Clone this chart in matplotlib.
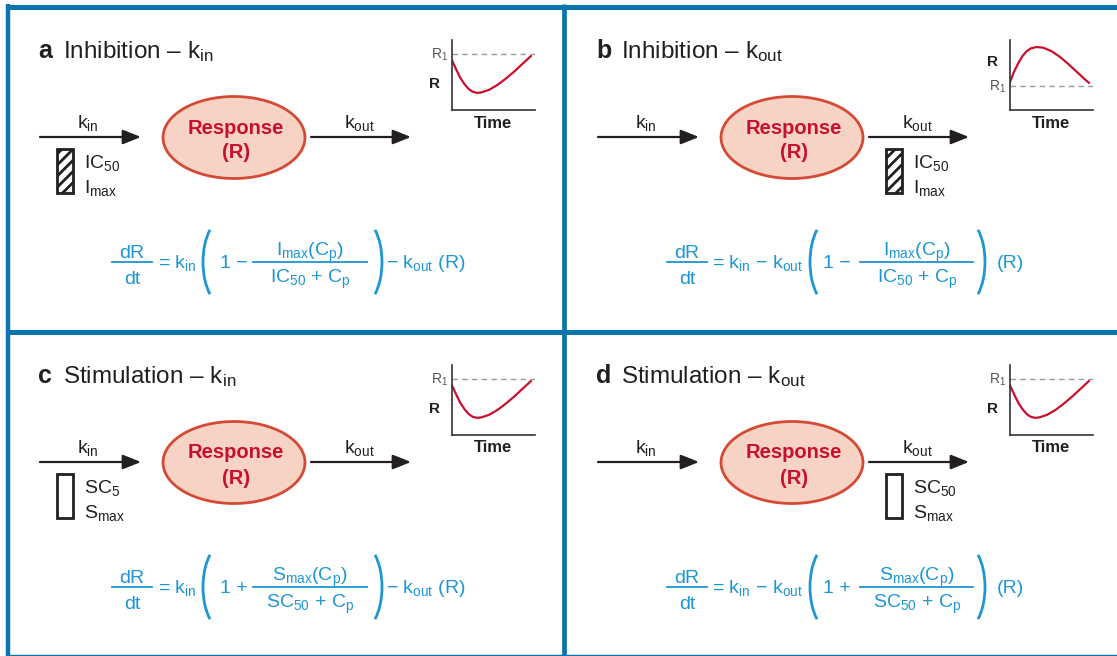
import matplotlib
matplotlib.use('Agg')
import matplotlib.pyplot as plt
from matplotlib.patches import Ellipse, Rectangle, Arc

plt.rcParams['font.family'] = 'Liberation Sans'
plt.rcParams['mathtext.fontset'] = 'custom'
plt.rcParams['mathtext.rm'] = 'Liberation Sans'
plt.rcParams['mathtext.it'] = 'Liberation Sans'
plt.rcParams['mathtext.bf'] = 'Liberation Sans:bold'
plt.rcParams['hatch.linewidth'] = 2.0

# panel contents
letters = ['a', 'b', 'c', 'd']
modes = ['Inhibition', 'Inhibition', 'Stimulation', 'Stimulation']
rates = ['in', 'out', 'in', 'out']
box_top = ['IC$_{50}$', 'IC$_{50}$', 'SC$_{5}$', 'SC$_{50}$']
box_bottom = ['I$_{max}$', 'I$_{max}$', 'S$_{max}$', 'S$_{max}$']
hatched = [True, True, False, False]
signs = ['\u2212', '\u2212', '+', '+']
numerators = ['I$_{max}$(C$_{p}$)', 'I$_{max}$(C$_{p}$)',
              'S$_{max}$(C$_{p}$)', 'S$_{max}$(C$_{p}$)']
denominators = ['IC$_{50}$ + C$_{p}$', 'IC$_{50}$ + C$_{p}$',
                'SC$_{50}$ + C$_{p}$', 'SC$_{50}$ + C$_{p}$']
curve_kind = ['down', 'up', 'down', 'down']

# response-time sketches (axis units 0..1)
time_down = [0, 0.05, 0.1, 0.15, 0.2, 0.25, 0.3, 0.35, 0.45, 0.55, 0.65, 0.75, 0.85, 0.95]
resp_down = [0.71, 0.58, 0.46, 0.37, 0.30, 0.26, 0.245, 0.25, 0.29, 0.36, 0.45, 0.55, 0.66, 0.77]
base_down = 0.8
time_up = [0, 0.05, 0.1, 0.15, 0.2, 0.25, 0.32, 0.4, 0.5, 0.6, 0.7, 0.8, 0.9, 0.95]
resp_up = [0.40, 0.55, 0.67, 0.77, 0.84, 0.88, 0.90, 0.89, 0.84, 0.76, 0.66, 0.55, 0.44, 0.39]
base_up = 0.343

W, H = 1117, 656
BLUE = '#0b74ad'
EQ = '#1d96d3'
RED = '#c8102e'
INK = '#231f20'

fig = plt.figure(figsize=(W / 100, H / 100), dpi=100)
ax = fig.add_axes([0, 0, 1, 1])
ax.set_xlim(0, W)
ax.set_ylim(H, 0)
ax.axis('off')

# frame
ax.plot([6, W], [6.5, 6.5], color=BLUE, lw=3.6, solid_capstyle='butt')
ax.plot([8, 8], [4, H], color=BLUE, lw=3.2, solid_capstyle='butt')
ax.plot([564, 564], [4, H], color=BLUE, lw=3.4, solid_capstyle='butt')
ax.plot([6, W], [331.5, 331.5], color=BLUE, lw=3.6, solid_capstyle='butt')
ax.plot([6, W], [654.5, 654.5], color=BLUE, lw=1.0, solid_capstyle='butt')

offsets_x = [0, 558, 0, 558]
offsets_y = [0, 0, 325, 325]


def arrow(x0, x1, y):
    ax.annotate('', xy=(x1, y), xytext=(x0, y),
                arrowprops=dict(arrowstyle='-|>,head_length=0.55,head_width=0.22',
                                mutation_scale=20, lw=1.6, color=INK,
                                shrinkA=0, shrinkB=0))


for i in range(4):
    ox, oy = offsets_x[i], offsets_y[i]

    # title
    ax.text(38 + ox, 58 + oy, letters[i], fontsize=18, fontweight='bold',
            va='baseline', color=INK)
    ax.text(63 + ox, 58 + oy, modes[i] + ' \u2013 k$_{' + rates[i] + '}$',
            fontsize=17.5, va='baseline', color=INK)

    # flow diagram
    arrow(40 + ox, 141 + ox, 137 + oy)
    arrow(311 + ox, 411 + ox, 137 + oy)
    ax.text(88 + ox, 128 + oy, 'k$_{in}$', ha='center', va='baseline',
            fontsize=14, color=INK)
    ax.text(359 + ox, 128 + oy, 'k$_{out}$', ha='center', va='baseline',
            fontsize=14, color=INK)

    bx = 57 if rates[i] == 'in' else 328
    ax.add_patch(Rectangle((bx + ox, 149 + oy), 16, 44, fc='white', ec=INK,
                           lw=2, hatch='///' if hatched[i] else None))
    ax.text(bx + 27 + ox, 168 + oy, box_top[i], va='baseline', fontsize=14, color=INK)
    ax.text(bx + 27 + ox, 193 + oy, box_bottom[i], va='baseline', fontsize=14, color=INK)

    ax.add_patch(Ellipse((234 + ox, 137.5 + oy), 142, 82, fc='#f7d3c6',
                         ec='#d44a35', lw=2))
    ax.text(236 + ox, 128 + oy, 'Response', ha='center', va='center',
            fontsize=14.5, fontweight='bold', color=RED)
    ax.text(236 + ox, 153 + oy, '(R)', ha='center', va='center',
            fontsize=14.5, fontweight='bold', color=RED)

    # inset sketch
    ix, iy = 452 + ox, 110 + oy
    axin = fig.add_axes([ix / W, 1 - iy / H, 83 / W, 70 / H])
    if curve_kind[i] == 'down':
        axin.plot(time_down, resp_down, color=RED, lw=1.6)
        axin.axhline(base_down, color='#9a9a9a', lw=1, ls=(0, (4, 3)))
        r1_y, r_y = 55, 84
    else:
        axin.plot(time_up, resp_up, color=RED, lw=1.6)
        axin.axhline(base_up, color='#9a9a9a', lw=1, ls=(0, (4, 3)))
        r1_y, r_y = 87, 62
    axin.set_xlim(0, 1)
    axin.set_ylim(0, 1)
    axin.set_xticks([])
    axin.set_yticks([])
    axin.patch.set_alpha(0)
    for s in ['top', 'right']:
        axin.spines[s].set_visible(False)
    for s in ['left', 'bottom']:
        axin.spines[s].set_linewidth(1.2)
        axin.spines[s].set_color('#333333')
    ax.text(448 + ox, r1_y + oy, 'R$_{1}$', ha='right', va='center',
            fontsize=10, color='#555555')
    ax.text(434 + ox, r_y + oy, 'R', ha='center', va='center',
            fontsize=11, fontweight='bold', color=INK)
    ax.text(493 + ox, 123 + oy, 'Time', ha='center', va='center',
            fontsize=12, fontweight='bold', color=INK)

    # rate equation
    fs = 14
    if rates[i] == 'in':
        fc, fl = 132, (112, 152)
        mid = '= k$_{in}$'
        mid_x, lp, one_x = 158, 225, 220
        nc, nl = 310, (253, 367)
        rp, tail, tail_x = 360, '\u2212 k$_{out}$ (R)', 386
    else:
        fc, fl = 129, (109, 149)
        mid = '= k$_{in}$ \u2212 k$_{out}$'
        mid_x, lp, one_x = 154, 274, 265
        nc, nl = 359, (302, 415)
        rp, tail, tail_x = 405, '(R)', 439
    ax.text(fc + ox, 258 + oy, 'dR', ha='center', va='baseline', fontsize=fs, color=EQ)
    ax.plot([fl[0] + ox, fl[1] + ox], [262 + oy, 262 + oy], color=EQ, lw=1.3)
    ax.text(fc + ox, 284 + oy, 'dt', ha='center', va='baseline', fontsize=fs, color=EQ)
    ax.text(mid_x + ox, 268 + oy, mid, va='baseline', fontsize=fs, color=EQ)
    ax.add_patch(Arc((lp + ox, 262 + oy), 44, 88, theta1=115, theta2=245,
                     color=EQ, lw=2))
    ax.text(one_x + ox, 268 + oy, '1 ' + signs[i], va='baseline', fontsize=fs, color=EQ)
    ax.text(nc + ox, 256 + oy, numerators[i], ha='center', va='baseline',
            fontsize=fs, color=EQ)
    ax.plot([nl[0] + ox, nl[1] + ox], [262 + oy, 262 + oy], color=EQ, lw=1.3)
    ax.text(nc + ox, 283 + oy, denominators[i], ha='center', va='baseline',
            fontsize=fs, color=EQ)
    ax.add_patch(Arc((rp + ox, 262 + oy), 44, 88, theta1=-65, theta2=65,
                     color=EQ, lw=2))
    ax.text(tail_x + ox, 268 + oy, tail, va='baseline', fontsize=fs, color=EQ)

fig.savefig('out.png', dpi=100)
